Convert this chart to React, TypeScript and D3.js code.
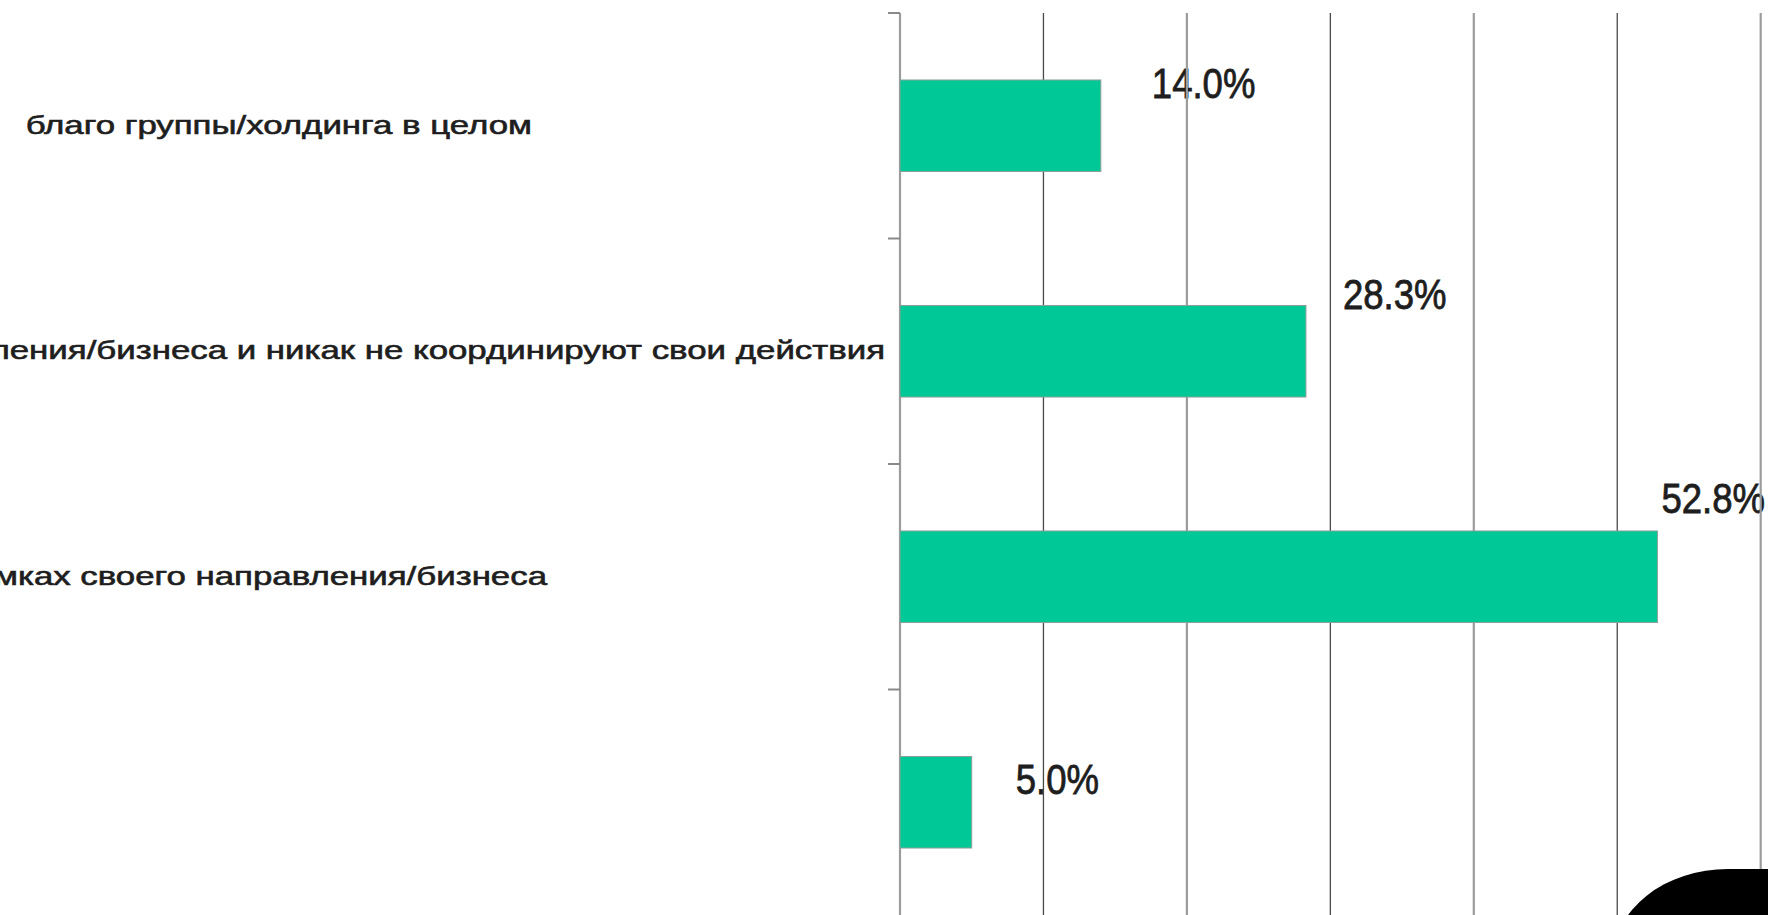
import React from "react";
import * as d3 from "d3";

const categories = ["group", "separate", "ownBusiness", "other"];
const categoryLabels = [
  "благо группы/холдинга в целом",
  "направления/бизнеса и никак не координируют свои действия",
  "в рамках своего направления/бизнеса",
  "",
];
const values = [14.0, 28.3, 52.8, 5.0];
const valueLabels = ["14.0%", "28.3%", "52.8%", "5.0%"];
const xTicks = [0, 10, 20, 30, 40, 50, 60];

// label placement (manual, as in the source)
const valueLabelOffsets: [number, number][] = [
  [51, -28],
  [37, -42],
  [4, -64],
  [44, -8],
];
const categoryLabelEnds = [532, 885, 547, 0];

const W = 1768;
const H = 915;

export default function App() {
  const x = d3.scaleLinear().domain([0, 60]).range([900, 1760.7]);
  const y = d3
    .scaleBand<string>()
    .domain(categories)
    .range([13, 915])
    .paddingInner(0.594)
    .paddingOuter(0.297);
  const step = y.step();
  const bandStarts = categories.map((_, i) => 13 + i * step);

  return (
    <svg
      width={W}
      height={H}
      style={{ position: "fixed", left: 0, top: 0, background: "#fff", fontFamily: "'Liberation Sans', Arial, sans-serif" }}
    >
      <rect x={0} y={0} width={W} height={H} fill="#fff" />
      {/* value labels (drawn beneath the gridlines, as in the source) */}
      {categories.map((c, i) => {
        const cx = x(values[i]) + valueLabelOffsets[i][0];
        const cy = y(c)! + y.bandwidth() / 2 + valueLabelOffsets[i][1];
        return (
          <g key={"v" + c} transform={`translate(${cx},${cy}) scale(0.87,1)`}>
            <text x={0} y={0} fontSize={42} fill="#1e1e1e" stroke="#1e1e1e" strokeWidth={0.8}>
              {valueLabels[i]}
            </text>
          </g>
        );
      })}
      {/* gridlines */}
      {xTicks.map((t, i) => (
        <line
          key={"g" + t}
          x1={x(t)}
          x2={x(t)}
          y1={13}
          y2={H}
          stroke={i % 2 === 1 ? "#4a4a4a" : "#9c9c9c"}
          strokeWidth={i % 2 === 1 ? 1.3 : 2.2}
        />
      ))}
      {/* category ticks */}
      {bandStarts.map((b, i) => (
        <line key={"t" + i} x1={888} x2={900} y1={b} y2={b} stroke="#8a8a8a" strokeWidth={2} />
      ))}
      {/* bars */}
      {categories.map((c, i) => (
        <rect
          key={c}
          x={x(0)}
          y={y(c)!}
          width={x(values[i]) - x(0)}
          height={y.bandwidth()}
          fill="#00c997"
          stroke="#8f9f98"
          strokeWidth={1}
        />
      ))}
      {/* category labels */}
      {categories.map((c, i) =>
        categoryLabels[i] ? (
          <g
            key={"c" + c}
            transform={`translate(${categoryLabelEnds[i]},${y(c)! + y.bandwidth() / 2 + 8}) scale(1.34,1)`}
          >
            <text x={0} y={0} fontSize={26} textAnchor="end" fill="#1e1e1e" stroke="#1e1e1e" strokeWidth={0.6}>
              {categoryLabels[i]}
            </text>
          </g>
        ) : null
      )}
      {/* decorative black shape bottom-right */}
      <path d="M 1613 960 A 115 91 0 0 1 1728 869 L 1800 869 L 1800 960 Z" fill="#000" />
    </svg>
  );
}
